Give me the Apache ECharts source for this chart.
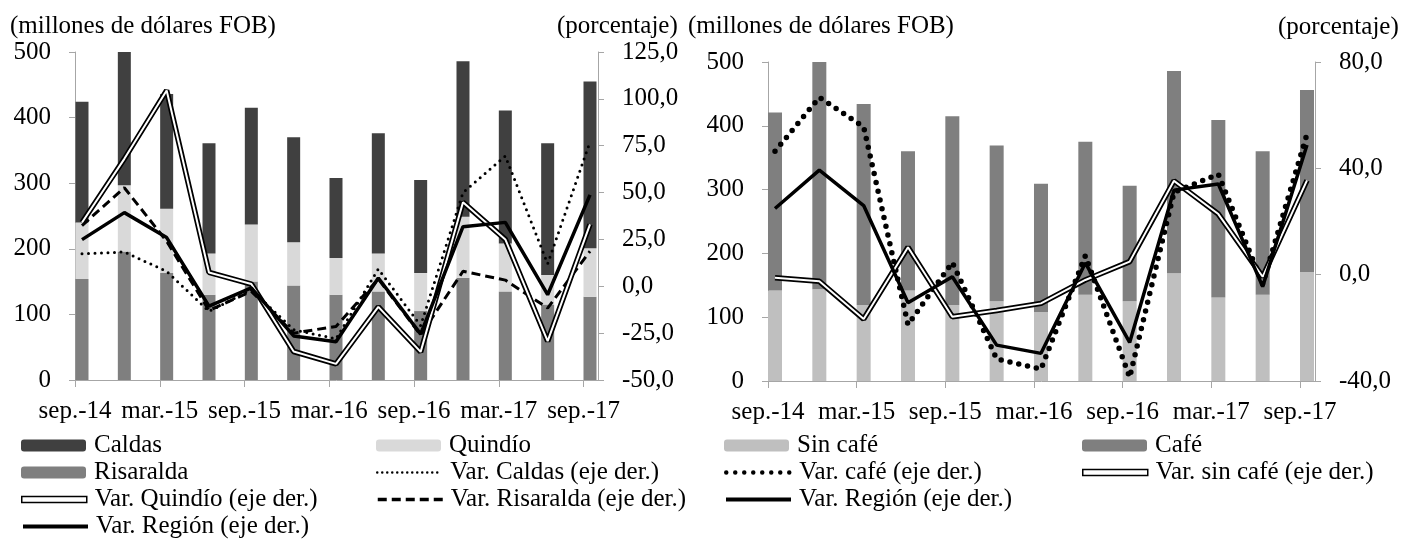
<!DOCTYPE html>
<html>
<head>
<meta charset="utf-8">
<style>
  html, body { margin: 0; padding: 0; background: #fff; }
  #chart { width: 1406px; height: 540px; }
</style>
<script src="https://cdn.jsdelivr.net/npm/echarts@6.0.0/dist/echarts.min.js"></script>
</head>
<body>
<div id="chart"></div>
<script>
// trimestres
const categories = ["sep.-14", "dic.-14", "mar.-15", "jun.-15", "sep.-15", "dic.-15", "mar.-16",
  "jun.-16", "sep.-16", "dic.-16", "mar.-17", "jun.-17", "sep.-17"]

// panel izquierdo: millones de dólares FOB
const risaralda = [154, 196, 163, 130, 150, 144, 130, 135, 105, 156, 135, 115, 127]
const quindio = [86, 101, 98, 63, 87, 66, 56, 58, 58, 93, 73, 45, 74]
const caldas = [184, 203, 175, 168, 178, 160, 122, 183, 142, 237, 203, 201, 254]

// panel izquierdo: variación anual (%)
const varCaldas = [17.4, 18.3, 8.0, -13.4, -1.8, -23.2, -28.0, 9.2, -21.0, 50.0, 69.5, 12.0, 77.0]
const varQuindio = [34.0, 68.0, 104.5, 7.4, 1.2, -34.8, -41.4, -11.0, -35.0, 44.8, 25.0, -29.3, 33.0]
const varRisaralda = [32.4, 52.6, 24.0, -12.9, -2.7, -25.0, -21.4, 3.9, -26.0, 8.0, 3.3, -11.6, 18.7]
const varRegion = [24.9, 39.3, 26.0, -10.6, -0.8, -26.5, -29.6, 4.4, -25.5, 31.8, 34.1, -4.5, 48.8]

// panel derecho: millones de dólares FOB
const sinCafe = [142, 144, 119, 142, 119, 125, 108, 135, 125, 169, 131, 135, 171]
const cafe = [279, 356, 315, 218, 296, 244, 201, 240, 181, 317, 278, 225, 285]

// panel derecho: variación anual (%)
const varCafe = [46.4, 66.7, 55.6, -18.8, 4.6, -31.7, -35.5, 7.1, -38.6, 31.0, 37.8, -3.5, 52.9]
const varSinCafe = [-1.2, -2.5, -16.7, 10.3, -15.8, -13.5, -10.8, -2.0, 4.9, 35.3, 22.8, -0.8, 35.5]

const FONT = "Liberation Serif"
const FS = 25
const GRAY = "#a6a6a6"
const X_MIN = -0.16
const X_MAX = 12.18
// las marcas del eje caen en el borde izquierdo de cada barra, cada dos trimestres
const tickValues = categories.map((c, i) => i).filter((i) => i % 2 === 0).map((i) => i + X_MIN)

const txt = { fontFamily: FONT, fontSize: FS, color: "#000" }
const pct = (v) => v.toFixed(1).replace(".", ",")

// ejes visibles (sin series): solo dibujan líneas, marcas y rótulos
function xAxisShown(gridIndex) {
  return {
    type: "value",
    gridIndex,
    min: X_MIN,
    max: X_MAX,
    splitLine: { show: false },
    axisLine: { show: true, onZero: false, lineStyle: { color: GRAY } },
    axisTick: { show: true, customValues: tickValues, length: 7, lineStyle: { color: GRAY } },
    axisLabel: {
      ...txt,
      customValues: tickValues,
      margin: 19,
      formatter: (v) => categories[Math.round(v - X_MIN)] || ""
    }
  }
}

function yAxisShown(gridIndex, position, min, max, interval, formatter) {
  return {
    type: "value",
    gridIndex,
    position,
    min,
    max,
    interval,
    splitLine: { show: false },
    axisLine: { show: true, onZero: false, lineStyle: { color: GRAY } },
    axisTick: { show: true, length: 6, lineStyle: { color: GRAY } },
    axisLabel: { ...txt, margin: 24, formatter }
  }
}

// ejes ocultos donde se dibujan las barras y líneas
const xAxisData = (gridIndex) => ({ type: "category", gridIndex, data: categories, boundaryGap: true, show: false })
const yAxisData = (gridIndex, position, min, max) => ({ type: "value", gridIndex, position, min, max, show: false })

function bar(name, data, color, stack, xi, yi, width) {
  return {
    name, type: "bar", stack, data, barWidth: width,
    xAxisIndex: xi, yAxisIndex: yi,
    itemStyle: { color }, emphasis: { disabled: true }, z: 2
  }
}

function line(name, data, xi, yi, lineStyle, z) {
  return {
    name, type: "line", data, symbol: "none",
    xAxisIndex: xi, yAxisIndex: yi,
    lineStyle, emphasis: { disabled: true }, z: z || 5
  }
}

// doble línea: trazo negro grueso con un trazo blanco encima
function doubleLine(name, data, xi, yi) {
  return [
    line(name, data, xi, yi, { color: "#000", width: 5.5 }, 5),
    line(name + " _", data, xi, yi, { color: "#fff", width: 2 }, 6)
  ]
}

const rows = [433, 460, 487, 514]
function legend(name, left, row, extra) {
  return {
    left, top: rows[row], padding: 0, itemWidth: 65, itemHeight: 12, selectedMode: false,
    textStyle: { ...txt, padding: [0, 0, 0, 3] },
    data: [{ name, ...(extra || {}) }]
  }
}
const hollow = {
  icon: "path://M0,0L65,0L65,6L0,6Z",
  itemStyle: { color: "#fff", borderColor: "#000", borderWidth: 1.5 }
}
const lineIcon = (lineStyle) => ({ itemStyle: { opacity: 0 }, lineStyle })

const dotsSmall = { color: "#000", width: 3, type: [0, 6.5], cap: "round" }
const dotsBig = { color: "#000", width: 5.5, type: [0, 9], cap: "round" }
const dashed = { color: "#000", width: 3, type: [9, 5] }
const solid = { color: "#000", width: 3.5 }

const option = {
  animation: false,
  title: [
    { text: "(millones de dólares FOB)", left: 10, top: 14 },
    { text: "(porcentaje)", left: 557, top: 14 },
    { text: "(millones de dólares FOB)", left: 688, top: 14 },
    { text: "(porcentaje)", left: 1278, top: 15 }
  ].map((t) => ({ ...t, padding: 0, textStyle: { ...txt, fontWeight: "normal" } })),
  grid: [
    { left: 75, top: 52, width: 523, height: 328 },
    { left: 768, top: 62, width: 547, height: 319 },
    { left: 60.83, top: 52, width: 550.33, height: 328 },
    { left: 752.83, top: 62, width: 576.33, height: 319 }
  ],
  xAxis: [xAxisShown(0), xAxisShown(1), xAxisData(2), xAxisData(3)],
  yAxis: [
    yAxisShown(0, "left", 0, 500, 100),
    yAxisShown(0, "right", -50, 125, 25, pct),
    yAxisShown(1, "left", 0, 500, 100),
    yAxisShown(1, "right", -40, 80, 40, pct),
    yAxisData(2, "left", 0, 500),
    yAxisData(2, "right", -50, 125),
    yAxisData(3, "left", 0, 500),
    yAxisData(3, "right", -40, 80)
  ],
  legend: [
    legend("Caldas", 21, 0),
    legend("Quindío", 376, 0),
    legend("Risaralda", 21, 1),
    legend("Var. Caldas (eje der.)", 376, 1, lineIcon({ color: "#000", width: 2.5, type: [0, 5], cap: "round" })),
    legend("Var. Quindío (eje der.)", 21, 2, hollow),
    legend("Var. Risaralda (eje der.)", 376, 2, lineIcon({ color: "#000", width: 3.5, type: [9, 5] })),
    legend("Var. Región (eje der.)", 21, 3, lineIcon({ color: "#000", width: 4 })),
    legend("Sin café", 724, 0),
    legend("Café", 1082, 0),
    legend("Var. café (eje der.)", 724, 1, lineIcon({ color: "#000", width: 4.5, type: [0, 9], cap: "round" })),
    legend("Var. sin café (eje der.)", 1082, 1, hollow),
    legend("Var. Región (eje der.)", 724, 2, lineIcon({ color: "#000", width: 4 }))
  ],
  series: [
    bar("Risaralda", risaralda, "#7f7f7f", "L", 2, 4, 13),
    bar("Quindío", quindio, "#d9d9d9", "L", 2, 4, 13),
    bar("Caldas", caldas, "#404040", "L", 2, 4, 13),
    line("Var. Caldas (eje der.)", varCaldas, 2, 5, dotsSmall),
    ...doubleLine("Var. Quindío (eje der.)", varQuindio, 2, 5),
    line("Var. Risaralda (eje der.)", varRisaralda, 2, 5, dashed),
    line("Var. Región (eje der.)", varRegion, 2, 5, solid, 7),

    bar("Sin café", sinCafe, "#bfbfbf", "R", 3, 6, 14),
    bar("Café", cafe, "#7f7f7f", "R", 3, 6, 14),
    line("Var. café (eje der.)", varCafe, 3, 7, dotsBig),
    ...doubleLine("Var. sin café (eje der.)", varSinCafe, 3, 7),
    line("Var. Región (eje der.)", varRegion, 3, 7, solid, 7)
  ]
}

const chart = echarts.init(document.getElementById("chart"), null, { renderer: "canvas" })
chart.setOption(option)
window.addEventListener("resize", () => chart.resize())
</script>
</body>
</html>
